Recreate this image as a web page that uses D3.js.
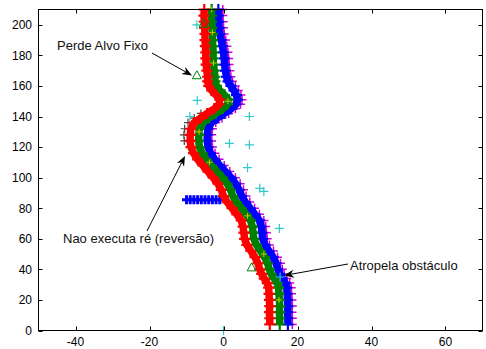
<!DOCTYPE html>
<html><head><meta charset="utf-8">
<script src="https://cdn.jsdelivr.net/npm/d3@7"></script>
<style>
html,body{margin:0;padding:0;background:#fff;}
svg{display:block;font-family:Arial,"Liberation Sans",sans-serif;}
</style></head><body>
<svg id="c" width="486" height="349"></svg>
<script>
// sample heights of the tracks (y)
const trackY = [4,8,12,16,20,24,28,31,34,37,40,44,48,52,56,60,64,68,72,76,80,84,88,92,96,100,104,108,112,116,120,124,128,132,136,139,142,145,148,151,154,157,160,163,166,170,174,178,182,186,190,194,198,202,206,210];
const redX = [12.5,12.5,12.4,12.5,12.4,12.3,12.2,11.8,11.0,10.3,9.8,9.3,8.5,7.4,6.3,5.7,5.5,5.3,4.8,3.6,2.3,1.0,0.0,-0.6,-1.5,-2.8,-4.2,-5.6,-7.0,-8.1,-8.8,-9.0,-9.0,-8.8,-7.9,-6.2,-4.4,-2.5,-1.2,-1.0,-2.0,-3.2,-4.0,-4.3,-4.3,-4.5,-4.7,-4.8,-4.8,-4.9,-5.0,-5.0,-5.1,-5.2,-5.3,-5.2];
const greenX = [15.2,15.2,15.1,15.2,15.1,15.0,14.9,14.5,13.7,12.9,12.4,11.9,11.1,10.0,8.9,8.2,8.0,7.8,7.3,6.1,4.8,3.5,2.5,1.9,1.0,-0.3,-1.8,-3.3,-4.7,-5.8,-6.5,-6.7,-6.7,-6.5,-5.6,-3.9,-2.1,-0.2,1.1,1.3,0.3,-1.0,-1.9,-2.3,-2.3,-2.5,-2.7,-2.8,-2.8,-2.9,-3.0,-3.0,-3.1,-3.2,-3.3,-3.2];
const blueX = [17.4,17.4,17.3,17.4,17.3,17.2,17.1,16.7,15.9,15.2,14.7,14.2,13.4,12.3,11.2,10.6,10.4,10.2,9.7,8.5,7.2,5.9,4.9,4.2,3.3,2.0,0.5,-1.0,-2.4,-3.5,-4.2,-4.4,-4.4,-4.2,-3.3,-1.6,0.2,2.0,3.4,3.8,3.5,2.8,2.0,1.2,0.8,0.5,0.3,0.2,0.0,-0.3,-0.6,-1.0,-1.2,-1.3,-1.4,-1.4];
const magentaX = [18.6,18.6,18.5,18.6,18.5,18.4,18.3,17.9,17.1,16.4,15.9,15.4,14.6,13.5,12.4,11.8,11.6,11.4,10.9,9.7,8.4,7.1,6.1,5.4,4.5,3.2,1.7,0.2,-1.2,-2.3,-3.0,-3.2,-3.2,-3.0,-2.1,-0.4,1.4,3.2,4.6,5.0,4.7,4.0,3.2,2.4,2.0,1.7,1.5,1.4,1.2,0.9,0.6,0.2,0.0,-0.1,-0.2,-0.2];
// reverse manoeuvre row (blue) at y = 85.5
const revX = [-10,-9,-8,-7,-6,-5,-4,-3,-2,-1];
const revY = [85.5,85.5,85.5,85.5,85.5,85.5,85.5,85.5,85.5,85.5];
// dark grey trail (left edge of S)
const greyY = [124,128,132,136,139,142];
const greyX = [-10.6,-10.7,-10.5,-9.6,-7.9,-6.1];
// yellow small markers inside green track
const yellowY = [20,50,75,110,130,150,175,195,210];
const yellowX = [15.0,10.9,6.5,-3.8,-6.6,1.2,-2.7,-3.0,-3.2];
// cyan target points
const cyanX = [0,-7.2,-7.1,-9.1,7.0,7.0,1.6,6.5,9.8,10.9,15.1,15.3];
const cyanY = [0,200,150.5,140,140,121.5,122.4,106.5,93,91,66.8,35];
// green triangles (obstacles)
const triX = [-5.4,-7.2,7.6];
const triY = [200.7,167,41.3];
// axis ticks
const xTicks = [-40,-20,0,20,40,60];
const yTicks = [0,20,40,60,80,100,120,140,160,180,200];
// annotations
const notes = [
  {text:"Perde Alvo Fixo", tx:57, ty:49.5, from:[152,53], to:[192,75.5]},
  {text:"Nao executa ré (reversão)", tx:63, ty:243, from:[147,231], to:[185,156]},
  {text:"Atropela obstáculo", tx:350, ty:269.5, from:[348,264], to:[284,275.5]}
];

const svg = d3.select("#c");
const L=38.5, R=482.5, T=9.5, B=330.5;
const x = d3.scaleLinear().domain([-50,70]).range([L,R]);
const y = d3.scaleLinear().domain([0,210]).range([B,T]);

const plus = a => `M${-a},0H${a}M0,${-a}V${a}`;
const g = svg.append("g");

function markers(xs, ys, color, arm, sw){
  g.append("g").selectAll("path").data(xs.map((v,i)=>[v,ys[i]])).join("path")
    .attr("transform", d=>`translate(${x(d[0])},${y(d[1])})`)
    .attr("d", plus(arm)).attr("stroke", color).attr("stroke-width", sw).attr("fill","none");
}
function band(xs, ys, color){
  const pts = xs.map((v,i)=>[v,ys[i]]);
  g.append("path").datum(pts)
    .attr("d", d3.line().x(d=>x(d[0])).y(d=>y(d[1])))
    .attr("fill","none").attr("stroke",color).attr("stroke-width",7.5).attr("stroke-linejoin","round");
  markers(xs, ys, color, 5.5, 2.2);
}

markers(magentaX, trackY, "#d000d0", 4.5, 1.5);
markers(greyX, greyY, "#444", 4, 1.2);
band(blueX, trackY, "#0000ff");
markers(revX, revY, "#0000ff", 4.5, 3);
band(greenX, trackY, "#008000");
band(redX, trackY, "#ff0000");
markers(yellowX, yellowY, "#c8c800", 3, 1);
markers(cyanX, cyanY, "#30c8c8", 4.5, 1.2);

g.append("g").selectAll("path").data(triX.map((v,i)=>[v,triY[i]])).join("path")
  .attr("transform", d=>`translate(${x(d[0])},${y(d[1])})`)
  .attr("d","M0,-4.5L4.5,3.5L-4.5,3.5Z").attr("fill","none").attr("stroke","#008000").attr("stroke-width",1);

// axes box
const ax = svg.append("g").attr("stroke","#000").attr("stroke-width",1).attr("fill","none");
ax.append("rect").attr("x",L).attr("y",T).attr("width",R-L).attr("height",B-T);
xTicks.forEach(t=>{
  const px = Math.round(x(t))+0.5;
  ax.append("line").attr("x1",px).attr("x2",px).attr("y1",B).attr("y2",B-4);
  ax.append("line").attr("x1",px).attr("x2",px).attr("y1",T).attr("y2",T+4);
});
yTicks.forEach(t=>{
  const py = Math.round(y(t))+0.5;
  ax.append("line").attr("x1",L).attr("x2",L+4).attr("y1",py).attr("y2",py);
  ax.append("line").attr("x1",R).attr("x2",R-4).attr("y1",py).attr("y2",py);
});
svg.append("g").selectAll("text").data(xTicks).join("text")
  .attr("x",d=>x(d)).attr("y",346).attr("text-anchor","middle")
  .attr("font-size",12).attr("fill","#000").text(d=>d);
svg.append("g").selectAll("text").data(yTicks).join("text")
  .attr("x",32).attr("y",d=>y(d)+4.3).attr("text-anchor","end")
  .attr("font-size",12).attr("fill","#000").text(d=>d);

// annotations
notes.forEach(n=>{
  svg.append("text").attr("x",n.tx).attr("y",n.ty).attr("font-size",13).attr("fill","#111").text(n.text);
  const [x1,y1]=n.from,[x2,y2]=n.to;
  const ang=Math.atan2(y2-y1,x2-x1), len=10, w=4, back=7;
  svg.append("line").attr("x1",x1).attr("y1",y1).attr("x2",x2-Math.cos(ang)*back).attr("y2",y2-Math.sin(ang)*back)
    .attr("stroke","#000").attr("stroke-width",1);
  const c=Math.cos(ang), s=Math.sin(ang);
  const p1=[x2-len*c - w*(-s), y2-len*s - w*c];
  const p2=[x2-back*c, y2-back*s];
  const p3=[x2-len*c + w*(-s), y2-len*s + w*c];
  svg.append("path").attr("d",`M${x2},${y2}L${p1}L${p2}L${p3}Z`).attr("fill","#000");
});
</script></body></html>
